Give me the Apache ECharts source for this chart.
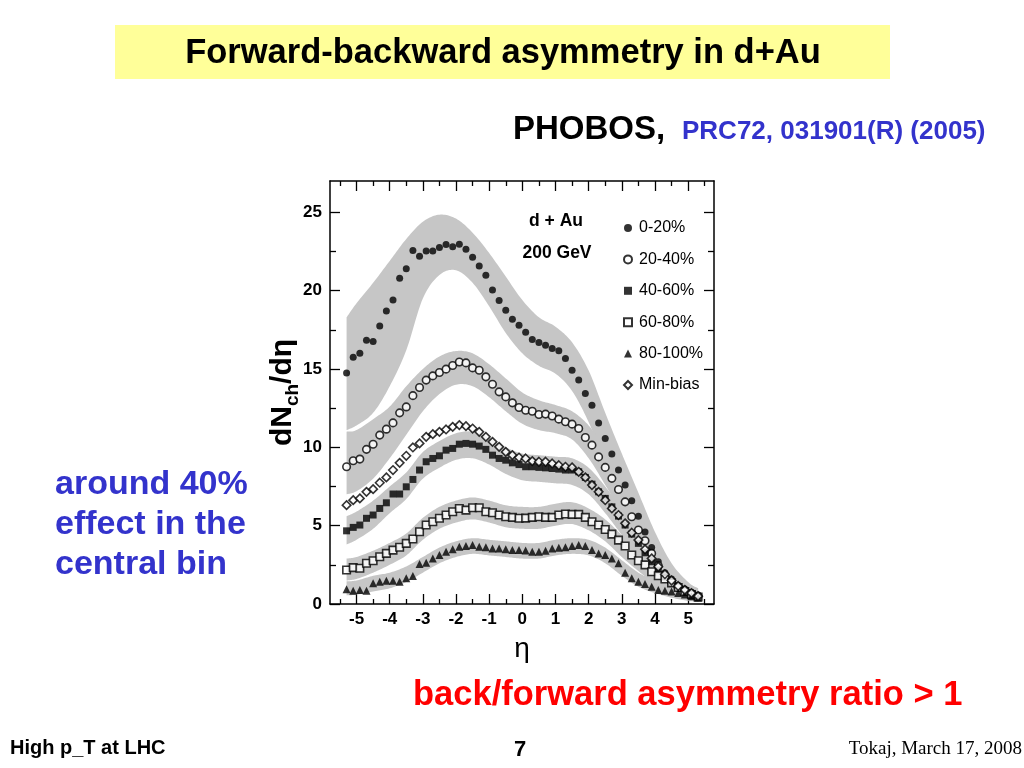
<!DOCTYPE html>
<html><head><meta charset="utf-8">
<script src="https://cdn.jsdelivr.net/npm/echarts@6/dist/echarts.min.js"></script>
<style>html,body{margin:0;padding:0;background:#fff}#c{width:1024px;height:768px}</style>
</head><body><div id="c"></div>
<script>
// ---------- data ----------
const eta = [-5.3,-5.1,-4.9,-4.7,-4.5,-4.3,-4.1,-3.9,-3.7,-3.5,-3.3,-3.1,-2.9,-2.7,-2.5,-2.3,-2.1,-1.9,-1.7,-1.5,-1.3,-1.1,-0.9,-0.7,-0.5,-0.3,-0.1,
             0.1,0.3,0.5,0.7,0.9,1.1,1.3,1.5,1.7,1.9,2.1,2.3,2.5,2.7,2.9,3.1,3.3,3.5,3.7,3.9,4.1,4.3,4.5,4.7,4.9,5.1,5.3];

const c0_20 = [14.75,15.75,16.0,16.84,16.75,17.75,18.7,19.4,20.8,21.4,22.56,22.2,22.53,22.53,22.75,22.94,22.81,22.96,22.64,22.13,21.58,20.98,20.04,19.37,18.75,18.18,17.8,
               17.35,16.88,16.69,16.52,16.31,16.16,15.67,14.92,14.29,13.44,12.69,11.56,10.57,9.57,8.55,7.59,6.59,5.6,4.6,3.6,2.7,2.0,1.6,1.2,0.95,0.75,0.55];
const c20_40 = [8.76,9.14,9.25,9.87,10.2,10.78,11.16,11.56,12.2,12.58,13.3,13.82,14.29,14.56,14.78,14.99,15.22,15.45,15.39,15.07,14.92,14.5,14.03,13.54,13.22,12.84,12.54,
               12.37,12.3,12.1,12.12,12.0,11.8,11.63,11.48,11.2,10.63,10.14,9.39,8.72,8.02,7.31,6.52,5.57,4.72,4.04,3.23,2.45,1.8,1.4,1.05,0.85,0.65,0.5];
const c40_60 = [4.67,4.89,5.04,5.47,5.68,6.1,6.46,7.02,7.02,7.48,7.95,8.55,9.08,9.29,9.46,9.82,9.93,10.2,10.25,10.2,10.08,9.87,9.5,9.29,9.18,9.01,8.9,
               8.76,8.76,8.72,8.69,8.65,8.61,8.55,8.55,8.44,8.08,7.65,7.16,6.74,6.2,5.61,5.04,4.46,3.87,3.27,2.7,2.17,1.74,1.4,1.05,0.85,0.6,0.45];
const c60_80 = [2.17,2.32,2.28,2.6,2.76,3.02,3.23,3.44,3.62,3.87,4.15,4.61,5.04,5.25,5.47,5.68,5.89,6.1,5.99,6.14,6.14,5.89,5.82,5.68,5.57,5.53,5.47,
               5.48,5.53,5.57,5.53,5.53,5.68,5.74,5.72,5.72,5.53,5.25,5.04,4.76,4.46,4.08,3.7,3.13,2.76,2.5,2.06,1.8,1.6,1.35,1.05,0.8,0.6,0.45];
const c80_100 = [0.94,0.85,0.89,0.85,1.32,1.42,1.49,1.49,1.42,1.64,1.79,2.55,2.63,2.91,3.13,3.34,3.49,3.65,3.7,3.76,3.65,3.62,3.55,3.55,3.49,3.44,3.44,
               3.42,3.34,3.34,3.4,3.55,3.59,3.62,3.7,3.76,3.7,3.44,3.23,3.13,2.91,2.6,2.0,1.64,1.42,1.28,1.1,0.9,0.85,0.8,0.7,0.6,0.5,0.4];
const minBias = [6.31,6.63,6.74,7.16,7.33,7.74,8.08,8.55,9.01,9.46,9.99,10.25,10.67,10.84,10.99,11.14,11.31,11.42,11.35,11.2,10.99,10.67,10.35,10.03,9.71,9.5,9.35,
               9.29,9.12,9.08,9.08,8.97,8.86,8.76,8.72,8.44,8.08,7.59,7.16,6.63,6.1,5.68,5.15,4.55,4.08,3.49,2.91,2.38,1.9,1.5,1.15,0.9,0.7,0.5];

// systematic-error bands: lower / upper edges
const bandEta = [-5.3,-5.0,-4.5,-4.0,-3.5,-3.0,-2.5,-2.0,-1.5,-1.0,-0.5,0.0,0.5,1.0,1.5,2.0,2.5,3.0,3.5,4.0,4.5,5.0,5.3];
const b0_20_lo = [11.1,11.4,12.2,13.9,16.2,19.5,21.0,21.3,20.5,19.0,17.3,16.0,15.2,14.7,13.6,11.6,9.0,6.5,4.1,2.2,1.0,0.4,0.25];
const b0_20_hi = [18.3,19.2,20.5,21.9,23.3,24.4,24.85,24.6,23.7,22.4,20.9,19.4,18.3,17.7,16.7,14.9,12.2,9.6,7.1,4.6,2.6,1.4,1.0];
const b20_40_lo = [7.0,7.2,8.0,9.3,10.8,12.3,13.4,14.0,13.9,13.2,12.3,11.5,11.1,10.9,10.5,9.3,7.6,5.8,3.8,2.2,1.1,0.5,0.3];
const b20_40_hi = [11.0,11.1,11.8,12.6,13.9,15.0,15.8,16.15,16.0,15.3,14.4,13.5,13.0,12.7,12.3,11.4,9.9,8.0,5.8,3.9,2.3,1.3,1.0];
const b40_60_lo = [3.8,4.1,4.8,5.8,6.7,8.0,8.7,9.2,9.3,8.9,8.3,7.9,7.8,7.7,7.6,7.0,5.8,4.4,3.0,1.7,0.9,0.4,0.3];
const b40_60_hi = [5.6,5.9,6.6,7.5,8.4,9.7,10.4,10.9,11.0,10.6,10.0,9.6,9.5,9.4,9.3,8.7,7.5,6.1,4.6,3.2,2.0,1.2,0.9];
const b60_80_lo = [1.5,1.6,2.0,2.5,3.1,4.1,4.8,5.2,5.4,5.2,4.9,4.8,4.8,5.0,5.1,4.7,4.0,3.0,2.1,1.3,0.8,0.4,0.3];
const b60_80_hi = [2.9,3.0,3.4,3.9,4.5,5.5,6.2,6.6,6.8,6.6,6.3,6.2,6.2,6.4,6.5,6.1,5.4,4.4,3.4,2.5,1.8,1.1,0.9];
const b80_100_lo = [0.55,0.6,0.8,1.0,1.4,2.0,2.6,3.0,3.2,3.1,3.0,2.9,2.9,3.1,3.2,3.1,2.6,1.8,1.1,0.7,0.4,0.2,0.15];
const b80_100_hi = [1.45,1.5,1.8,2.0,2.4,3.0,3.6,4.0,4.2,4.1,4.0,3.9,3.9,4.1,4.2,4.1,3.6,2.8,2.0,1.5,1.1,0.8,0.7];

const xMajor = [-5,-4,-3,-2,-1,0,1,2,3,4,5];
const xMinor = [-5.5,-4.5,-3.5,-2.5,-1.5,-0.5,0.5,1.5,2.5,3.5,4.5,5.5];
const yMajor = [0,5,10,15,20,25];
const yMinor = [2.5,7.5,12.5,17.5,22.5];

// ---------- chart ----------
const FONT = '"Liberation Sans", Arial, Helvetica, sans-serif';
const BAND = '#c6c6c6';
const chart = echarts.init(document.getElementById('c'), null, {renderer:'canvas'});

// smooth curve through pixel points (Catmull-Rom), returns dense pixel points for drawing
function spline(p){
  const out = [];
  const n = p.length;
  for (let i = 0; i < n - 1; i++){
    const p0 = p[Math.max(i-1,0)], p1 = p[i], p2 = p[i+1], p3 = p[Math.min(i+2,n-1)];
    for (let s = 0; s < 12; s++){
      const t = s/12, t2 = t*t, t3 = t2*t;
      const f = (a,b,c,d)=>0.5*((2*b)+(-a+c)*t+(2*a-5*b+4*c-d)*t2+(-a+3*b-3*c+d)*t3);
      out.push([f(p0[0],p1[0],p2[0],p3[0]), f(p0[1],p1[1],p2[1],p3[1])]);
    }
  }
  out.push(p[n-1]);
  return out;
}
function bandSeries(lo, hi){
  return {type:'custom', silent:true, z:1, clip:true,
    data: bandEta.map((e,i)=>[e, lo[i], hi[i]]),
    encode:{x:0, y:[1,2]},
    renderItem(params, api){
      if (params.dataIndex !== 0) return null;
      const up = spline(bandEta.map((e,i)=>api.coord([e, hi[i]])));
      const dn = spline(bandEta.map((e,i)=>api.coord([e, lo[i]]))).reverse();
      return {type:'polygon', shape:{points: up.concat(dn)}, style:{fill:BAND, stroke:null}};
    }};
}
const series = [
  bandSeries(b0_20_lo, b0_20_hi), bandSeries(b20_40_lo, b20_40_hi), bandSeries(b40_60_lo, b40_60_hi),
  bandSeries(b60_80_lo, b60_80_hi), bandSeries(b80_100_lo, b80_100_hi)
];

function pts(name, vals, symbol, size, open){
  return {type:'scatter', name, symbol, symbolSize:size, z:5,
    itemStyle: open ? {color:'#fff', borderColor:'#000', borderWidth:1.6} : {color:'#000'},
    data: eta.map((e,i)=>[e, vals[i]])};
}
series.push(pts('0-20%', c0_20, 'circle', 7, false));
series.push(pts('20-40%', c20_40, 'circle', 7.5, true));
series.push(pts('40-60%', c40_60, 'rect', 7, false));
series.push(pts('60-80%', c60_80, 'rect', 7.5, true));
series.push(pts('80-100%', c80_100, 'triangle', 8, false));
series.push(pts('Min-bias', minBias, 'diamond', 8.5, true));

const axisLine = {show:true, onZero:false, lineStyle:{color:'#000', width:1.5}};
const noLine = {show:false, onZero:false};
const XMIN = -5.8, XMAX = 5.78, YMIN = 0, YMAX = 27;
function xa(pos, vals, len, labels, line){
  return {type:'value', position:pos, min:XMIN, max:XMAX,
    axisLine: line ? axisLine : noLine,
    axisTick:{show:true, inside:true, length:len, customValues:vals, lineStyle:{color:'#000', width:1.3}},
    axisLabel: labels ? {show:true, customValues:vals, color:'#000', fontWeight:'bold', fontSize:17, fontFamily:FONT, margin:7} : {show:false},
    splitLine:{show:false}};
}
function ya(pos, vals, len, labels, line){
  return {type:'value', position:pos, min:YMIN, max:YMAX,
    axisLine: line ? axisLine : noLine,
    axisTick:{show:true, inside:true, length:len, customValues:vals, lineStyle:{color:'#000', width:1.3}},
    axisLabel: labels ? {show:true, customValues:vals, color:'#000', fontWeight:'bold', fontSize:17, fontFamily:FONT, margin:8} : {show:false},
    splitLine:{show:false}};
}
const x0 = xa('bottom', xMajor, 10, true, true);
x0.name = 'η'; x0.nameLocation = 'middle'; x0.nameGap = 31; x0.nameMoveOverlap = false;
x0.nameTextStyle = {fontSize:28, color:'#000', fontFamily:FONT};
const y0 = ya('left', yMajor, 10, true, true);
y0.name = 'dN{s|ch}/dη'; y0.nameLocation = 'middle'; y0.nameGap = 28; y0.nameMoveOverlap = false;
y0.nameTextStyle = {fontSize:30, fontWeight:'bold', color:'#000', fontFamily:FONT, lineHeight:38,
  rich:{s:{fontSize:19, fontWeight:'bold', fontFamily:FONT, color:'#000', verticalAlign:'bottom', lineHeight:38}}};

const option = {
  animation:false,
  backgroundColor:'#fff',
  grid:{left:330, top:181, width:384, height:423, containLabel:false},
  xAxis:[x0, xa('bottom', xMinor, 5, false, false), xa('top', xMajor, 10, false, true), xa('top', xMinor, 5, false, false)],
  yAxis:[y0, ya('left', yMinor, 6, false, false), ya('right', yMajor, 10, false, true), ya('right', yMinor, 6, false, false)],
  legend:{data:['0-20%','20-40%','40-60%','60-80%','80-100%','Min-bias'], orient:'vertical', left:618, top:214,
    itemWidth:8, itemHeight:8, itemGap:13.4,
    textStyle:{fontSize:16, color:'#000', fontFamily:FONT, lineHeight:18, padding:[0,0,0,2]}},
  series,
  graphic:[
    {type:'rect', shape:{x:115, y:25, width:775, height:54}, style:{fill:'#ffff99'}, z:0},
    {type:'text', x:503, y:53, style:{text:'Forward-backward asymmetry in d+Au', fontSize:34.5, fontWeight:'bold', fontFamily:FONT, fill:'#000', align:'center', verticalAlign:'middle'}},
    {type:'text', x:513, y:130, style:{text:'PHOBOS,', fontSize:33, fontWeight:'bold', fontFamily:FONT, fill:'#000', align:'left', verticalAlign:'middle'}},
    {type:'text', x:682, y:132, style:{text:'PRC72, 031901(R) (2005)', fontSize:26, fontWeight:'bold', fontFamily:FONT, fill:'#3333cc', align:'left', verticalAlign:'middle'}},
    {type:'text', x:556, y:221, style:{text:'d + Au', fontSize:17.5, fontWeight:'bold', fontFamily:FONT, fill:'#000', align:'center', verticalAlign:'middle'}},
    {type:'text', x:557, y:253, style:{text:'200 GeV', fontSize:17.5, fontWeight:'bold', fontFamily:FONT, fill:'#000', align:'center', verticalAlign:'middle'}},
    {type:'text', x:55, y:525, style:{text:'around 40%\neffect in the\ncentral bin', fontSize:34, lineHeight:40, fontWeight:'bold', fontFamily:FONT, fill:'#3333cc', align:'left', verticalAlign:'middle'}},
    {type:'text', x:413, y:695, style:{text:'back/forward asymmetry ratio > 1', fontSize:34.5, fontWeight:'bold', fontFamily:FONT, fill:'#ff0000', align:'left', verticalAlign:'middle'}},
    {type:'text', x:10, y:748, style:{text:'High p_T at LHC', fontSize:20, fontWeight:'bold', fontFamily:FONT, fill:'#000', align:'left', verticalAlign:'middle'}},
    {type:'text', x:520, y:750, style:{text:'7', fontSize:22, fontWeight:'bold', fontFamily:FONT, fill:'#000', align:'center', verticalAlign:'middle'}},
    {type:'text', x:1022, y:749, style:{text:'Tokaj, March 17, 2008', fontSize:19, fontFamily:'"Liberation Serif", "Times New Roman", serif', fill:'#000', align:'right', verticalAlign:'middle'}}
  ]
};
chart.setOption(option);
</script>
</body></html>
